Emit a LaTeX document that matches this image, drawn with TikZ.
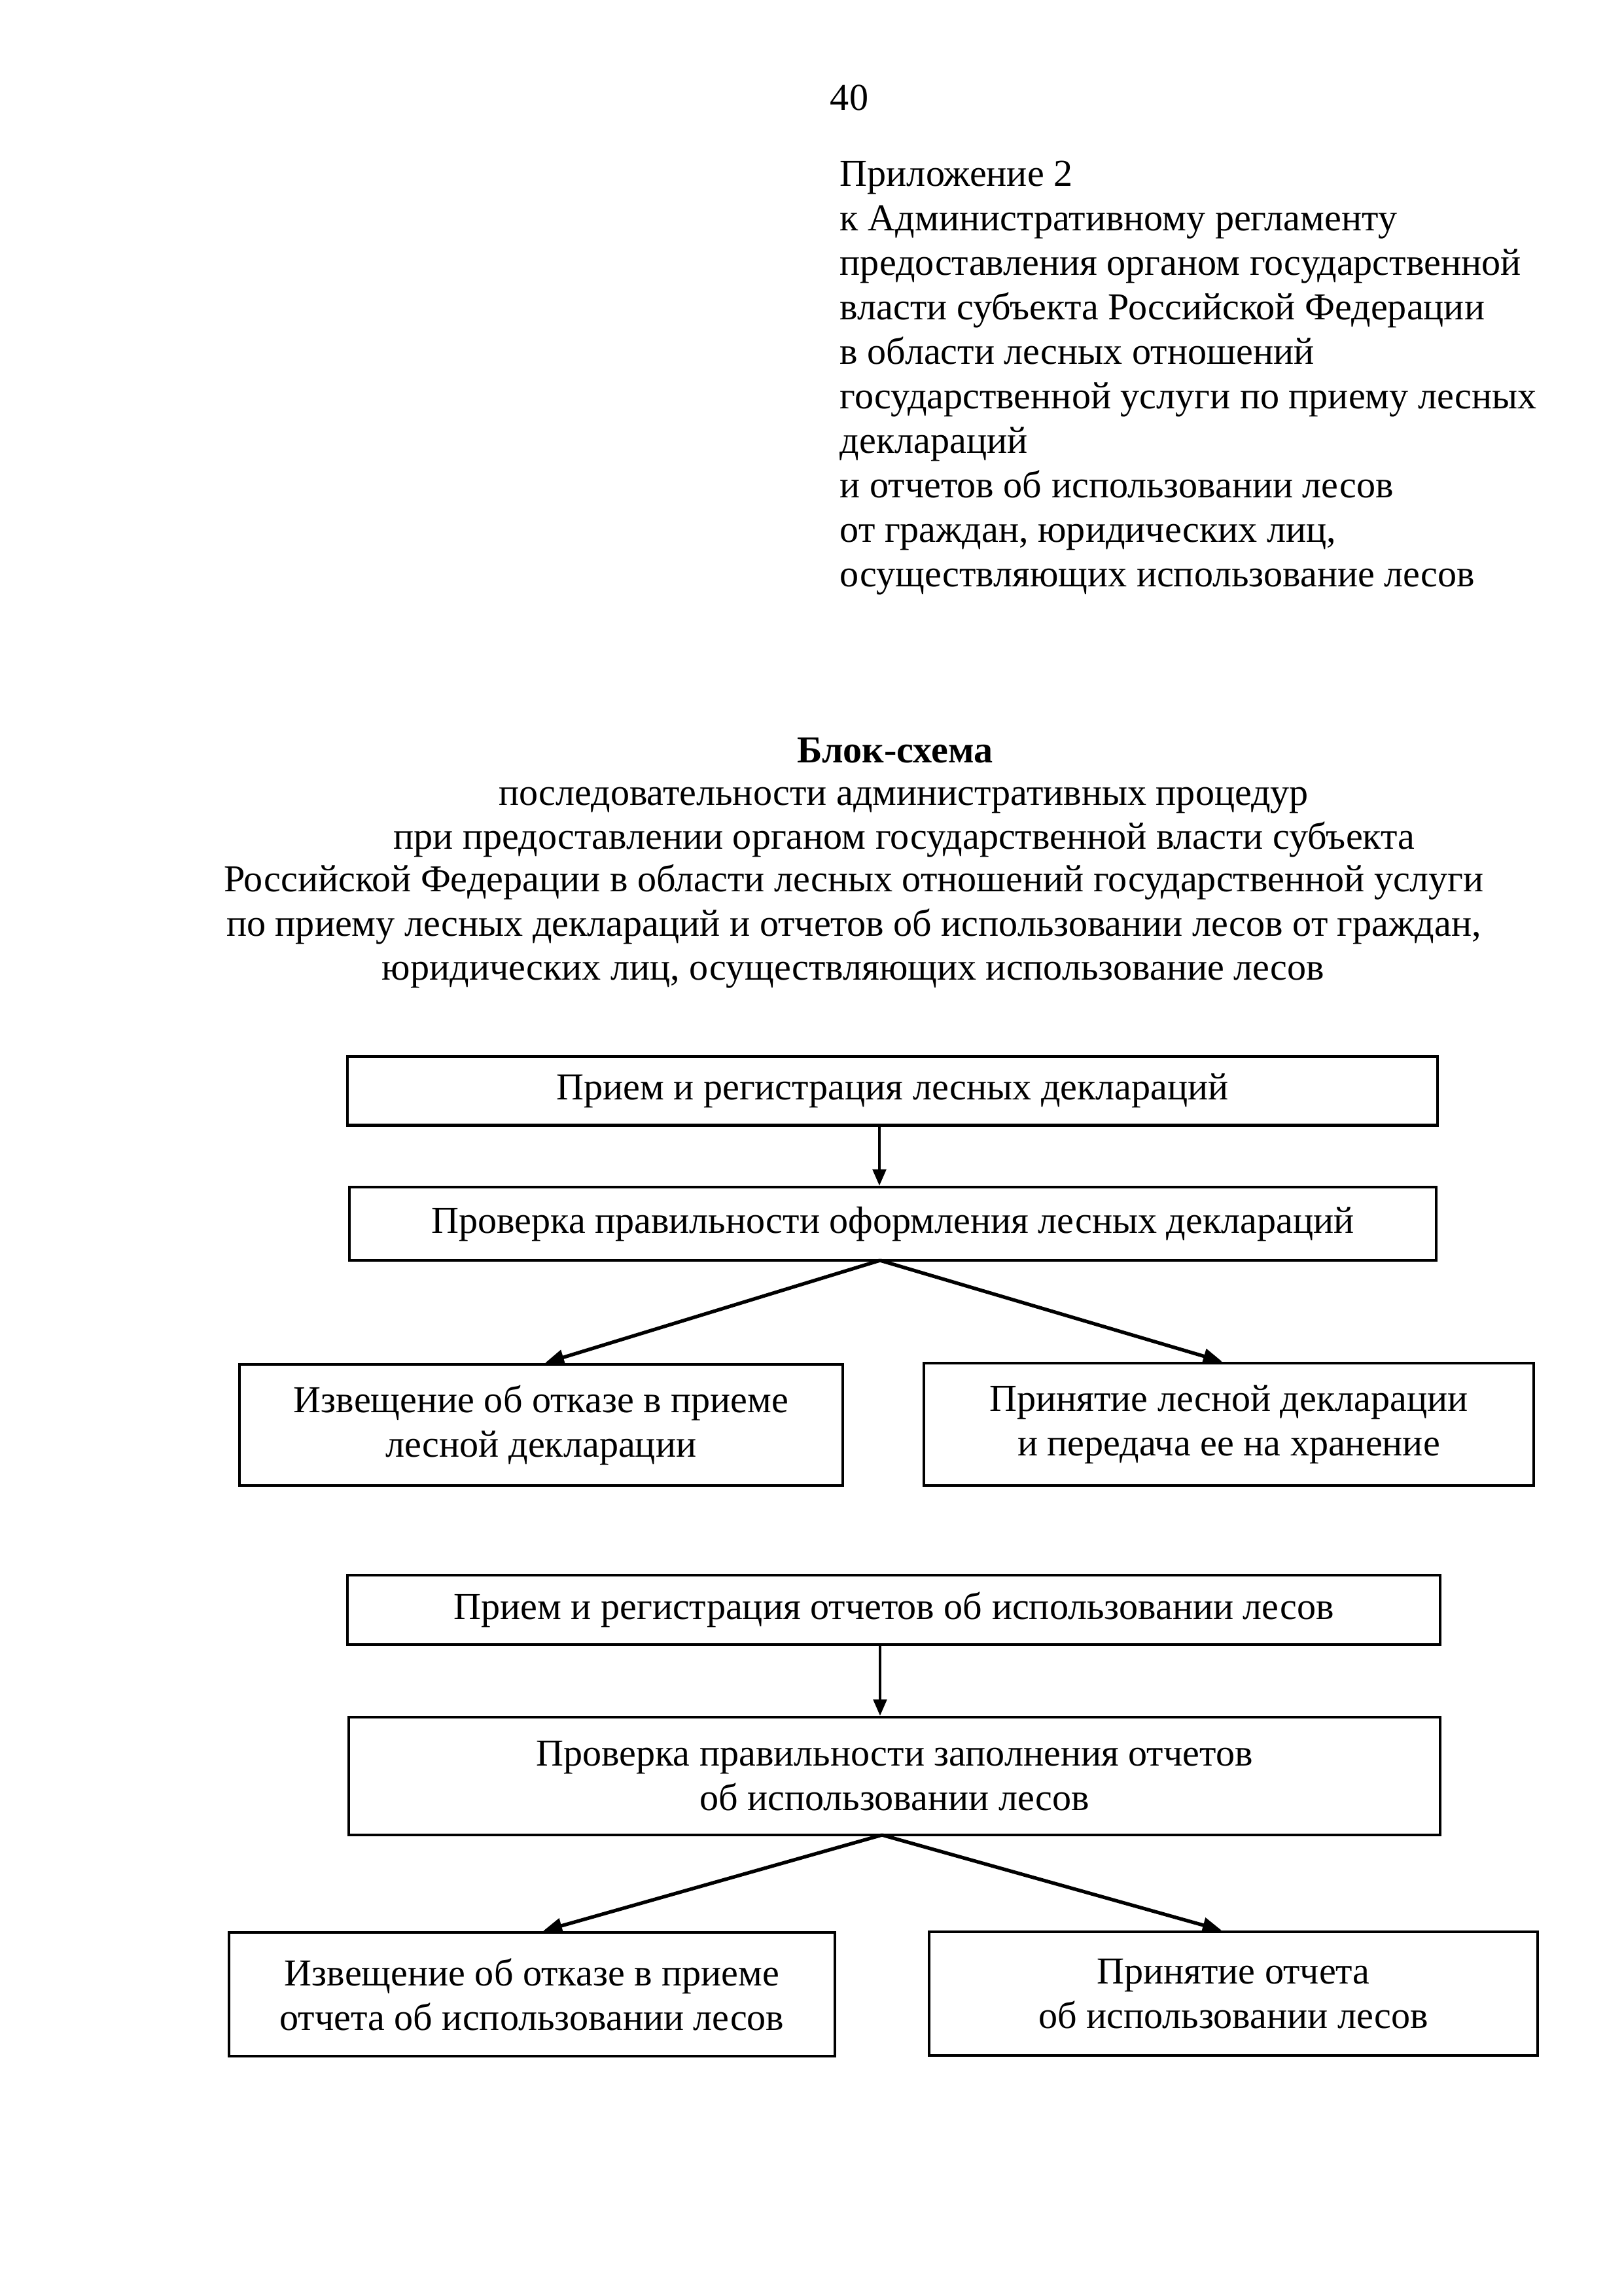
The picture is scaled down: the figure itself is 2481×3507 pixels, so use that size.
\documentclass[tikz,border=0pt]{standalone}
\usepackage{fontspec}
\setmainfont{Liberation Serif}
\usetikzlibrary{arrows.meta,calc}
\newlength\pxu
\setlength{\pxu}{0.0846433mm}
\tikzset{
  txt/.style={inner sep=0pt, font=\fontsize{14pt}{16.4pt}\selectfont},
  boxnode/.style={draw, line width=1.1pt, inner sep=0pt, align=center,
    font=\fontsize{14pt}{16.4pt}\selectfont},
  varrow/.style={line width=0.8pt, -{Triangle[length=6pt,width=5pt]}},
  darrow/.style={line width=1.3pt, -{Triangle[length=7pt,width=5.5pt]}}
}
\begin{document}
\begin{tikzpicture}[x=0.0846433mm, y=-0.0846433mm]
\useasboundingbox (0,0) rectangle (2481,3507);
\fill[white] (0,0) rectangle (2481,3507);

% page number
\node[txt, anchor=base] (pnum) at (1298,168) {40};

% appendix header
\node[txt, anchor=base west] (ap1) at (1283,284) {Приложение 2};
\node[txt, anchor=base west] (ap2) at (1283,352) {к Административному регламенту};
\node[txt, anchor=base west] (ap3) at (1283,420) {предоставления органом государственной};
\node[txt, anchor=base west] (ap4) at (1283,488) {власти субъекта Российской Федерации};
\node[txt, anchor=base west] (ap5) at (1283,556) {в области лесных отношений};
\node[txt, anchor=base west] (ap6) at (1283,624) {государственной услуги по приему лесных};
\node[txt, anchor=base west] (ap7) at (1283,692) {деклараций};
\node[txt, anchor=base west] (ap8) at (1283,760) {и отчетов об использовании лесов};
\node[txt, anchor=base west] (ap9) at (1283,828) {от граждан, юридических лиц,};
\node[txt, anchor=base west] (ap10) at (1283,896) {осуществляющих использование лесов};

% title
\node[txt, anchor=base, font=\fontsize{14pt}{16.4pt}\selectfont\bfseries] (t1) at (1368,1165) {Блок-схема};
\node[txt, anchor=base] (t2) at (1381,1230) {последовательности административных процедур};
\node[txt, anchor=base] (t3) at (1382,1297) {при предоставлении органом государственной власти субъекта};
\node[txt, anchor=base] (t4) at (1305,1362) {Российской Федерации в области лесных отношений государственной услуги};
\node[txt, anchor=base] (t5) at (1305,1430) {по приему лесных деклараций и отчетов об использовании лесов от граждан,};
\node[txt, anchor=base] (t6) at (1304,1497) {юридических лиц, осуществляющих использование лесов};

% first flow
\node[boxnode, minimum width=1666\pxu, minimum height=105\pxu] (b1) at (1364,1667)
  {Прием и регистрация лесных деклараций};
\node[boxnode, minimum width=1661\pxu, minimum height=112\pxu] (b2) at (1364.5,1870)
  {Проверка правильности оформления лесных деклараций};
\node[boxnode, minimum width=922\pxu, minimum height=185\pxu] (b3) at (827,2177.5)
  {Извещение об отказе в приеме\\лесной декларации};
\node[boxnode, minimum width=932\pxu, minimum height=187\pxu] (b4) at (1878,2176.5)
  {Принятие лесной декларации\\и передача ее на хранение};

% second flow
\node[boxnode, minimum width=1670\pxu, minimum height=106\pxu] (b5) at (1366,2460)
  {Прием и регистрация отчетов об использовании лесов};
\node[boxnode, minimum width=1668\pxu, minimum height=180\pxu] (b6) at (1367,2714)
  {Проверка правильности заполнения отчетов\\об использовании лесов};
\node[boxnode, minimum width=926\pxu, minimum height=189\pxu] (b7) at (813,3047.5)
  {Извещение об отказе в приеме\\отчета об использовании лесов};
\node[boxnode, minimum width=930\pxu, minimum height=189\pxu] (b8) at (1885,3046.5)
  {Принятие отчета\\об использовании лесов};

% connectors
\coordinate (ax1) at (1344,1719.5);
\draw[varrow] (ax1) -- (ax1 |- b2.north);
\coordinate (fk1) at (1345,1926);
\draw[darrow] (fk1) -- ([xshift=6\pxu]b3.north);
\draw[darrow] (fk1) -- ([xshift=-10\pxu]b4.north);

\coordinate (ax2) at (1345,2513);
\draw[varrow] (ax2) -- (ax2 |- b6.north);
\coordinate (fk2) at (1348,2804);
\draw[darrow] (fk2) -- ([xshift=17\pxu]b7.north);
\draw[darrow] (fk2) -- ([xshift=-18\pxu]b8.north);
\end{tikzpicture}
\end{document}
